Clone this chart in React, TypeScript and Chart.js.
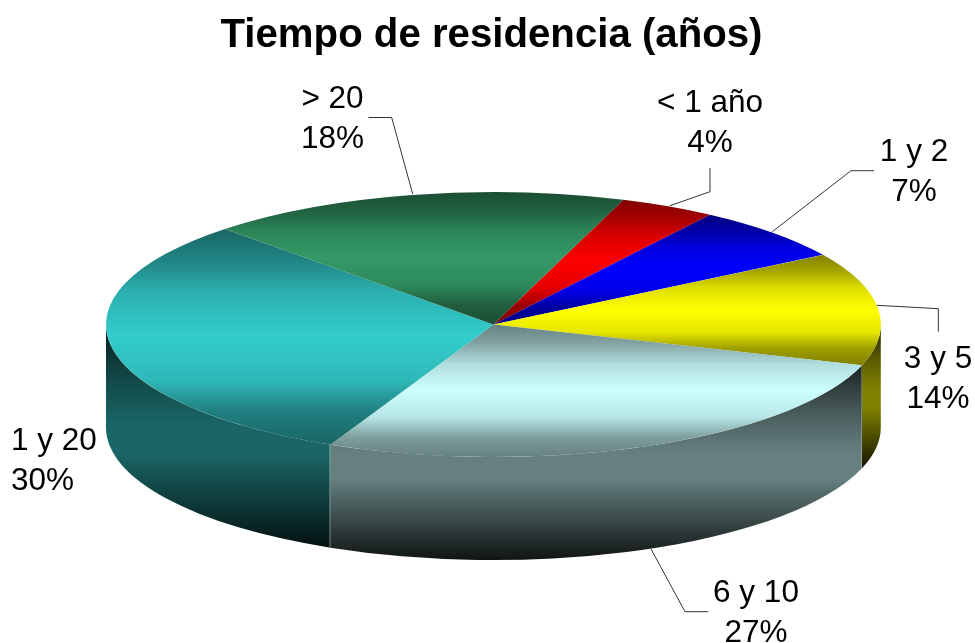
import React, { useEffect, useRef } from "react";
import { Chart, registerables } from "chart.js";

Chart.register(...registerables);

const TITLE = "Tiempo de residencia (años)";
const categories = ["< 1 año", "1 y 2", "3 y 5", "6 y 10", "1 y 20", "> 20"];
const percentLabels = ["4%", "7%", "14%", "27%", "30%", "18%"];
const shares = [4, 6.75, 13.78, 26.94, 30.9, 17.63];
const sliceColors: number[][] = [
  [255, 0, 0],
  [0, 0, 255],
  [255, 255, 0],
  [204, 255, 255],
  [51, 204, 204],
  [51, 153, 102],
];

const ROTATION = 19.6;
const CX = 493.4;
const CY = 324.5;
const RX = 387.4;
const RY = 132.5;
const DEPTH = 103;
const FONT = '"Liberation Sans", Arial, sans-serif';
const LABEL_SIZE = 31.5;

// text anchor and leader polyline for every category, in page pixels
const labelLayout = [
  { x: 710, y: 112, align: "center", line: [[710, 168], [710, 191.7], [670, 205.7]] },
  { x: 914, y: 161, align: "center", line: [[874, 170.7], [851, 170.7], [772.3, 231.7]] },
  { x: 938, y: 368, align: "center", line: [[938.3, 331.7], [938.3, 308.7], [876.7, 305.3]] },
  { x: 756, y: 602, align: "center", line: [[708.3, 611.7], [685, 611.7], [651, 549]] },
  { x: 11, y: 450, align: "left", line: null },
  { x: 332.5, y: 108, align: "center", line: [[368.5, 117.5], [391.7, 117.5], [412.7, 194]] },
];

const topStops = [[0, 0.5], [0.15, 0.65], [0.3, 0.87], [0.5, 1], [0.7, 0.9], [0.85, 0.62], [1, 0.5]];
const wallStops = [[0, 0.14], [0.25, 0.36], [0.45, 0.5], [0.58, 0.5], [0.8, 0.28], [1, 0.08]];

const shade = (c: number[], k: number) =>
  `rgb(${Math.round(c[0] * k)},${Math.round(c[1] * k)},${Math.round(c[2] * k)})`;

const total = shares.reduce((a, b) => a + b, 0);

// unit-circle angles of slice i, canvas convention (0 = east, clockwise)
function sliceAngles(i: number): [number, number] {
  const before = shares.slice(0, i).reduce((a, b) => a + b, 0);
  const start = ((ROTATION - 90) * Math.PI) / 180 + (before / total) * 2 * Math.PI;
  return [start, start + (shares[i] / total) * 2 * Math.PI];
}

// vertical extent (sin range) of an arc, optionally with the centre included
function sinRange(a0: number, a1: number, withCentre: boolean): [number, number] {
  let lo = Math.min(Math.sin(a0), Math.sin(a1));
  let hi = Math.max(Math.sin(a0), Math.sin(a1));
  if (withCentre) {
    lo = Math.min(lo, 0);
    hi = Math.max(hi, 0);
  }
  for (let k = -3; k <= 3; k++) {
    const a = Math.PI / 2 + k * Math.PI;
    if (a > a0 && a < a1) {
      lo = Math.min(lo, Math.sin(a));
      hi = Math.max(hi, Math.sin(a));
    }
  }
  return [lo, hi];
}

function topGradient(context: any) {
  const chart = context.chart;
  const area = chart.chartArea;
  if (!area) return "#000";
  const i = context.dataIndex;
  const [a0, a1] = sliceAngles(i);
  const [lo, hi] = sinRange(a0, a1, true);
  const r = Math.min(area.right - area.left, area.bottom - area.top) / 2;
  const cy = (area.top + area.bottom) / 2;
  const g = chart.ctx.createLinearGradient(0, cy + lo * r, 0, cy + hi * r);
  const c = sliceColors[i];
  topStops.forEach(([p, k]) => g.addColorStop(p, shade(c, k)));
  return g;
}

const pie3d = {
  id: "pie3d",
  beforeDatasetsDraw(chart: any) {
    const ctx = chart.ctx;
    const arcs = chart.getDatasetMeta(0).data;
    if (!arcs.length) return;

    // cylinder wall: only the part of each slice on the near half of the ellipse
    ctx.save();
    arcs.forEach((el: any, i: number) => {
      const span = el.endAngle - el.startAngle;
      let s = el.startAngle % (2 * Math.PI);
      if (s < 0) s += 2 * Math.PI;
      const e = s + span;
      [0, 2 * Math.PI].forEach((off) => {
        const a0 = Math.max(s, off);
        const a1 = Math.min(e, off + Math.PI);
        if (a1 <= a0) return;
        const [lo, hi] = sinRange(a0, a1, false);
        const y0 = CY + lo * RY;
        const y1 = CY + hi * RY + DEPTH;
        const g = ctx.createLinearGradient(0, y0, 0, y1);
        const c = sliceColors[i];
        wallStops.forEach(([p, k]) => g.addColorStop(p, shade(c, k)));
        ctx.beginPath();
        ctx.ellipse(CX, CY, RX, RY, 0, a0, a1);
        ctx.ellipse(CX, CY + DEPTH, RX, RY, 0, a1, a0, true);
        ctx.closePath();
        ctx.fillStyle = g;
        ctx.fill();
        // faint seam where two walls meet
        ctx.strokeStyle = "rgba(255,255,255,0.25)";
        ctx.lineWidth = 1;
        [a0, a1].forEach((a) => {
          if (a === off || a === off + Math.PI) return;
          const x = Math.round(CX + Math.cos(a) * RX) - 0.5;
          const y = CY + Math.sin(a) * RY;
          ctx.beginPath();
          ctx.moveTo(x, y);
          ctx.lineTo(x, y + DEPTH);
          ctx.stroke();
        });
      });
    });
    ctx.restore();

    // flatten the library's pie into the top ellipse
    const r = arcs[0].outerRadius;
    ctx.save();
    ctx.translate(CX, CY);
    ctx.scale(RX / r, RY / r);
    ctx.translate(-arcs[0].x, -arcs[0].y);
  },
  afterDatasetsDraw(chart: any) {
    chart.ctx.restore();
  },
  afterDraw(chart: any) {
    const ctx = chart.ctx;
    ctx.save();
    ctx.fillStyle = "#000";
    ctx.font = `${LABEL_SIZE}px ${FONT}`;
    ctx.textBaseline = "alphabetic";
    categories.forEach((name, i) => {
      const l = labelLayout[i];
      ctx.textAlign = l.align;
      ctx.fillText(name, l.x, l.y);
      ctx.fillText(percentLabels[i], l.x, l.y + 40);
      if (l.line) {
        ctx.strokeStyle = "#333";
        ctx.lineWidth = 1;
        ctx.beginPath();
        l.line.forEach(([x, y], k) => (k ? ctx.lineTo(x, y) : ctx.moveTo(x, y)));
        ctx.stroke();
      }
    });
    ctx.restore();
  },
};

export default function App() {
  const ref = useRef<HTMLCanvasElement>(null);
  useEffect(() => {
    if (!ref.current) return;
    const chart = new Chart(ref.current, {
      type: "pie",
      data: {
        labels: categories,
        datasets: [
          {
            data: shares,
            backgroundColor: topGradient,
            borderWidth: 0,
            clip: false,
          },
        ],
      },
      options: {
        responsive: false,
        animation: false,
        events: [],
        rotation: ROTATION,
        layout: { padding: { left: 8 } },
        plugins: {
          legend: { display: false },
          tooltip: { enabled: false },
          title: {
            display: true,
            text: TITLE,
            color: "#000",
            font: { family: FONT, size: 40.2, weight: "bold" },
            padding: { top: 12, bottom: 18 },
          },
        },
      },
      plugins: [pie3d],
    } as any);
    return () => chart.destroy();
  }, []);
  return (
    <canvas
      ref={ref}
      width={975}
      height={643}
      style={{ position: "absolute", left: 0, top: 0, width: 975, height: 643, display: "block" }}
    />
  );
}
